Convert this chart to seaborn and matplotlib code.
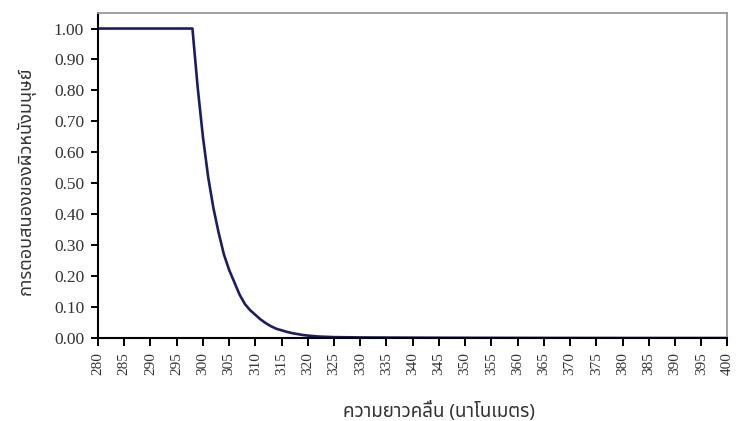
import pandas as pd
import matplotlib
matplotlib.use("Agg")
import matplotlib.pyplot as plt
from matplotlib.ticker import FormatStrFormatter
import seaborn as sns

sns.set_theme(style='ticks')
plt.rcParams['font.family'] = ['Liberation Serif', 'DejaVu Serif', 'DejaVu Sans']

# wavelength (nm) and relative response
wavelength = [280, 285, 290, 295, 298, 299, 300, 301, 302, 303, 304, 305, 306, 307,
              308, 309, 310, 311, 312, 313, 314, 315, 316, 317, 318, 319, 320, 322,
              325, 330, 340, 350, 360, 370, 380, 390, 400]
response = [1.00, 1.00, 1.00, 1.00, 1.00, 0.81, 0.65, 0.52, 0.42, 0.34, 0.27, 0.22, 0.18, 0.14,
            0.11, 0.09, 0.075, 0.06, 0.048, 0.038, 0.03, 0.025, 0.02, 0.016, 0.013, 0.01, 0.008, 0.005,
            0.003, 0.002, 0.0012, 0.0008, 0.0005, 0.0003, 0.0002, 0.0001, 0.0001]
xticks = list(range(280, 401, 5))
yticks = [i / 10 for i in range(0, 11)]
xlabel = 'ความยาวคลื่น (นาโนเมตร)'
ylabel = 'การตอบสนองของผิวหนังมนุษย์'

df = pd.DataFrame({'wl': wavelength, 'resp': response})

fig = plt.figure(figsize=(7.37, 4.21), dpi=100)
ax = fig.add_axes([0.133, 0.197, 0.854, 0.772])
sns.lineplot(data=df, x='wl', y='resp', color='#1c1c66', linewidth=1.9, ax=ax)

ax.set_xlim(280, 400)
ax.set_ylim(0, 1.05)
ax.set_xticks(xticks)
ax.set_xticklabels([str(t) for t in xticks], rotation=90, fontsize=11)
ax.set_yticks(yticks)
ax.yaxis.set_major_formatter(FormatStrFormatter('%.2f'))
ax.tick_params(axis='y', labelsize=12.5, length=5, width=1.4, color='black', pad=5,
               labelcolor='#333333')
ax.tick_params(axis='x', length=6, width=1.4, color='black', pad=4, labelcolor='#333333')
for s in ['top', 'right']:
    ax.spines[s].set_color('#999999')
    ax.spines[s].set_linewidth(1.3)
for s in ['left', 'bottom']:
    ax.spines[s].set_color('black')
    ax.spines[s].set_linewidth(1.5)

thai = ['Noto Sans Thai', 'Loma', 'Garuda', 'Liberation Serif', 'DejaVu Sans']
ax.set_xlabel(xlabel, fontsize=13.5, family=thai, color='#333333', va='center')
ax.xaxis.set_label_coords(0.542, -0.225)
ax.set_ylabel(ylabel, fontsize=13, family=thai, color='#333333', va='center')
ax.yaxis.set_label_coords(-0.114, 0.483)

plt.savefig('out.png', dpi=100)
